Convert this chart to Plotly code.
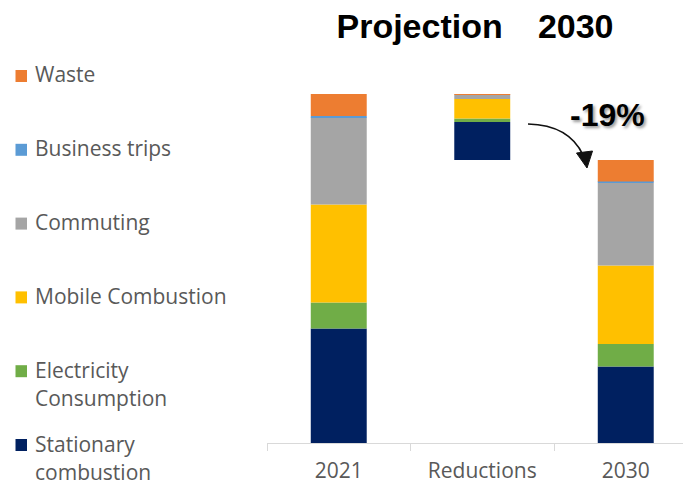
import plotly.graph_objects as go

# ---- data -------------------------------------------------------------
categories = ["2021", "Reductions", "2030"]

series_names = [
    "Stationary combustion",
    "Electricity Consumption",
    "Mobile Combustion",
    "Commuting",
    "Business trips",
    "Waste",
]
series_colors = ["#002060", "#70AD47", "#FFC000", "#A5A5A5", "#5B9BD5", "#ED7D31"]
legend_labels = [
    ["Stationary", "combustion"],
    ["Electricity", "Consumption"],
    ["Mobile Combustion"],
    ["Commuting"],
    ["Business trips"],
    ["Waste"],
]

# emissions per source (tCO2e), bottom of the stack first
emissions_2021 = [114.5, 26.0, 98.0, 87.0, 1.5, 22.0]
emissions_2030 = [76.5, 22.5, 78.5, 82.5, 1.5, 21.5]

title_text = "Projection\u00a0\u00a0\u00a0\u20092030"

# ---- derived values ---------------------------------------------------
reductions = [a - b for a, b in zip(emissions_2021, emissions_2030)]
total_2021 = sum(emissions_2021)
total_2030 = sum(emissions_2030)
change_pct = (total_2030 - total_2021) / total_2021 * 100
change_label = f"{round(change_pct):d}%"

# the reductions column floats on top of the 2030 total
column_offsets = [0.0, total_2030, 0.0]

# ---- page geometry (pixels) ------------------------------------------
FIG_W, FIG_H = 683, 485
M_L, M_R, M_T, M_B = 267, 0, 50, 42
PLOT_W = FIG_W - M_L - M_R
PLOT_H = FIG_H - M_T - M_B
CAT_PX = 143.5  # width of one category slot


def px(x):
    return (x - M_L) / PLOT_W


def py(y):
    return (FIG_H - M_B - y) / PLOT_H


fig = go.Figure()

running = list(column_offsets)
for name, color, v21, vr, v30 in zip(series_names, series_colors,
                                     emissions_2021, reductions, emissions_2030):
    vals = [v21, vr, v30]
    fig.add_trace(go.Bar(
        x=categories,
        y=vals,
        base=list(running),
        name=name,
        marker=dict(color=color, line=dict(width=0)),
        width=0.39,
        showlegend=False,
    ))
    running = [r + v for r, v in zip(running, vals)]

# ---- legend drawn down the left side ---------------------------------
legend_font = dict(family="Open Sans", size=21, color="#595959")
tick_font = dict(family="Open Sans", size=21, color="#595959")
row_top = 74.5
row_pitch = 73.8
line_gap = 28.5
shapes = []
annotations = []
for i, (color, lines) in enumerate(zip(reversed(series_colors), reversed(legend_labels))):
    cy = row_top + i * row_pitch
    shapes.append(dict(
        type="rect", xref="paper", yref="paper",
        x0=px(15.5), x1=px(27), y0=py(cy + 7.5), y1=py(cy - 4.5),
        fillcolor=color, line=dict(width=0),
    ))
    for j, line in enumerate(lines):
        annotations.append(dict(
            text=line, xref="paper", yref="paper",
            x=px(33), y=py(cy + j * line_gap),
            xanchor="left", yanchor="middle",
            showarrow=False, font=legend_font,
        ))

# ---- curved arrow towards the 2030 column ----------------------------
shapes.append(dict(
    type="path", xref="paper", yref="paper",
    path=(f"M {px(528)},{py(124)} Q {px(569)},{py(125)} {px(583)},{py(155)}"),
    line=dict(color="#111111", width=1.7),
))
shapes.append(dict(
    type="path", xref="paper", yref="paper",
    path=(f"M {px(587)},{py(168)} L {px(576.5)},{py(153)} "
          f"L {px(592.5)},{py(151)} Z"),
    fillcolor="#111111", line=dict(color="#111111", width=1),
))

annotations.append(dict(
    text=f"<b>{change_label}</b>", xref="paper", yref="paper",
    x=px(607.5), y=py(115), xanchor="center", yanchor="middle",
    showarrow=False,
    font=dict(family="Liberation Sans", size=32, color="#000000",
              shadow="2px 2px 3px rgba(0,0,0,0.4)"),
))

fig.update_layout(
    width=FIG_W,
    height=FIG_H,
    margin=dict(l=M_L, r=M_R, t=M_T, b=M_B, pad=0),
    paper_bgcolor="white",
    plot_bgcolor="white",
    barmode="overlay",
    title=dict(
        text=f"<b>{title_text}</b>",
        xref="container", yref="container",
        x=475 / FIG_W, y=1 - 26 / FIG_H,
        xanchor="center", yanchor="middle",
        font=dict(family="Liberation Sans", size=34, color="#000000"),
    ),
    xaxis=dict(
        type="category",
        range=[-0.5, -0.5 + PLOT_W / CAT_PX],
        tickson="boundaries",
        ticks="outside",
        ticklen=7,
        tickcolor="#D9D9D9",
        ticklabelstandoff=9,
        showline=True,
        linecolor="#D9D9D9",
        linewidth=1,
        showgrid=False,
        tickfont=tick_font,
    ),
    yaxis=dict(range=[0, PLOT_H], visible=False),
    shapes=shapes,
    annotations=annotations,
)

fig.write_html("out.html")
